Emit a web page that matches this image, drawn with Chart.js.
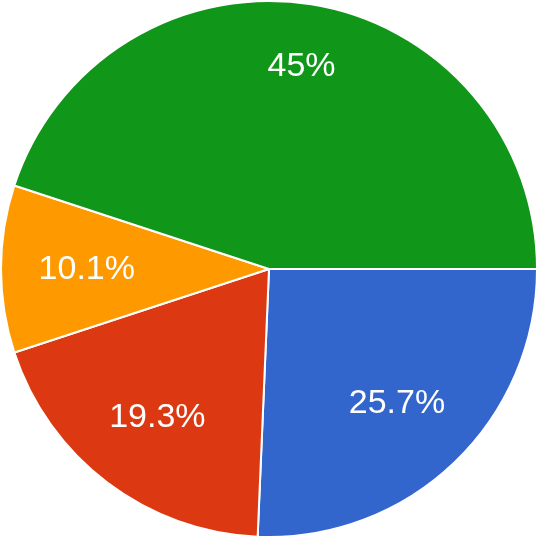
<!DOCTYPE html>
<html>
<head>
<meta charset="utf-8">
<script src="https://cdn.jsdelivr.net/npm/chart.js@4"></script>
<style>
  html, body { margin: 0; padding: 0; background: #fff; }
  #pie { display: block; }
</style>
</head>
<body>
<canvas id="pie" width="538" height="538"></canvas>
<script>
// --- Chart data ---
const categories = ['Category A', 'Category B', 'Category C', 'Category D'];
const values = [25.7, 19.3, 10.1, 45];
const sliceColors = ['#3366cc', '#dc3912', '#ff9900', '#109618'];

// Draws the percentage inside each slice (Google-chart style)
const sliceLabels = {
    id: 'sliceLabels',
    afterDatasetsDraw(chart, args, opts) {
        const ctx = chart.ctx;
        const meta = chart.getDatasetMeta(0);
        const total = values.reduce((a, b) => a + b, 0);
        ctx.save();
        ctx.fillStyle = '#fff';
        ctx.font = '34px "Liberation Sans", Arial, sans-serif';
        ctx.textAlign = 'center';
        ctx.textBaseline = 'middle';
        meta.data.forEach((arc, i) => {
            const p = arc.getProps(['x', 'y', 'startAngle', 'endAngle', 'outerRadius'], true);
            const mid = (p.startAngle + p.endAngle) / 2;
            const r = p.outerRadius * opts.radius[i];
            const pct = Number((values[i] / total * 100).toFixed(1));
            ctx.fillText(pct + '%', p.x + Math.cos(mid) * r, p.y + Math.sin(mid) * r + 1);
        });
        ctx.restore();
    }
};

new Chart(document.getElementById('pie'), {
    type: 'pie',
    data: {
        labels: categories,
        datasets: [{
            data: values,
            backgroundColor: sliceColors,
            borderColor: '#ffffff',
            borderWidth: 2,
            hoverOffset: 0
        }]
    },
    options: {
        responsive: false,
        animation: false,
        rotation: 90, // first slice starts at 3 o'clock
        layout: { padding: 0 },
        plugins: {
            legend: { display: false },
            tooltip: { enabled: false },
            sliceLabels: { radius: [0.69, 0.69, 0.68, 0.77] }
        }
    },
    plugins: [sliceLabels]
});
</script>
</body>
</html>
